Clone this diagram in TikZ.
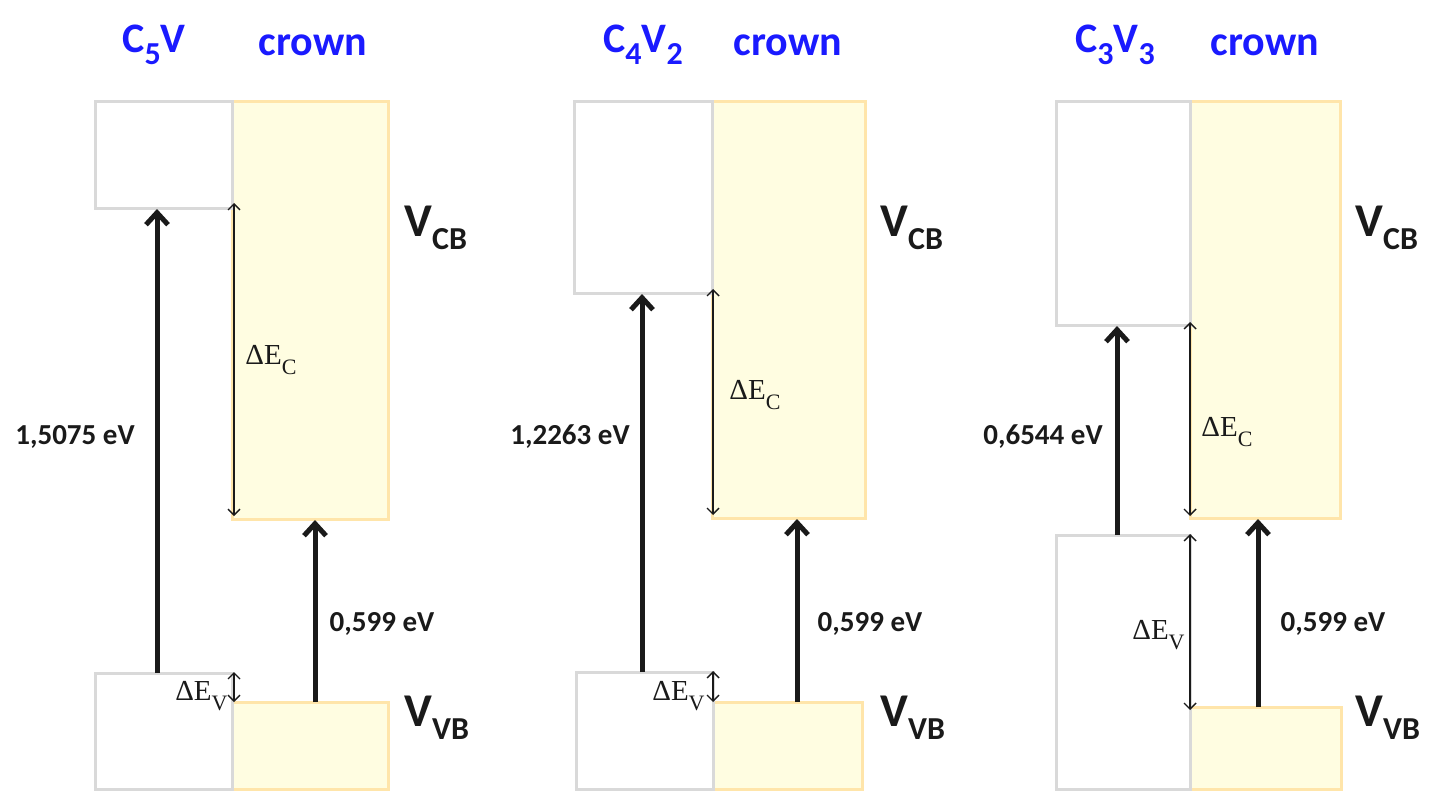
\documentclass[tikz,border=0pt]{standalone}
\usepackage{fontspec}
\setmainfont{Carlito}
\newfontfamily\serifE{Liberation Serif}
\usetikzlibrary{arrows.meta}
\definecolor{ttl}{RGB}{26,26,255}
\definecolor{boxgray}{RGB}{217,217,217}
\definecolor{crownfill}{RGB}{255,253,225}
\definecolor{crownline}{RGB}{255,229,170}
\definecolor{ink}{RGB}{26,26,26}
\newcommand\ssub[2]{\raisebox{-0.28em}{\fontsize{#2}{#2}\selectfont #1}}
\newcommand\dsub[1]{\raisebox{-0.32em}{\fontsize{11pt}{11pt}\selectfont #1}}
\begin{document}
\begin{tikzpicture}[x=0.5pt,y=-0.5pt,
  lbox/.style={draw=boxgray,line width=1.5pt,fill=white},
  cbox/.style={draw=crownline,line width=1.5pt,fill=crownfill},
  big/.style={draw=ink,line width=2.5pt,-{Straight Barb[length=6pt,width=11pt,line width=2.5pt]}},
  thin/.style={draw=ink,line width=0.7pt,{Straight Barb[length=3pt,width=6pt]}-{Straight Barb[length=3pt,width=6pt]}},
  title/.style={text=ttl,font=\bfseries\fontsize{21pt}{21pt}\selectfont,inner sep=0pt},
  ev/.style={text=ink,font=\bfseries\fontsize{14.5pt}{14.5pt}\selectfont,inner sep=0pt},
  vlab/.style={text=ink,font=\bfseries\fontsize{23.5pt}{23.5pt}\selectfont,inner sep=0pt,anchor=west},
  de/.style={text=ink,font=\serifE\fontsize{14.5pt}{14.5pt}\selectfont,inner sep=0pt,anchor=west},
  dev/.style={text=ink,font=\serifE\fontsize{14.5pt}{14.5pt}\selectfont,inner sep=0pt,anchor=east}
]
\useasboundingbox (0,0) rectangle (1433,797);
% ---------- panel 1 ----------
\draw[cbox] (232,102) rectangle (388,519);
\draw[cbox] (232,702) rectangle (388,789);
\draw[lbox] (95,102) rectangle (232,208);
\draw[lbox] (95,673) rectangle (232,789);
\coordinate (a1b) at (157,673); \coordinate (a1t) at (157,209);
\coordinate (b1b) at (315,702); \coordinate (b1t) at (315,520);
\coordinate (c1t) at (234,203); \coordinate (c1b) at (234,516);
\coordinate (v1t) at (234,672); \coordinate (v1b) at (234,702);
\draw[big] (a1b) -- (a1t);
\draw[big] (b1b) -- (b1t);
\draw[thin] (c1t) -- (c1b);
\draw[thin] (v1t) -- (v1b);
\node[title] (t1a) at (154,45) {C\ssub{5}{16pt}V};
\node[title] (t1b) at (313,45) {crown};
\node[ev] (e1a) at (75,437) {1,5075 eV};
\node[ev] (e1b) at (382,624) {0,599 eV};
\node[vlab] (cb1) at (404,228) {V\ssub{CB}{16pt}};
\node[vlab] (vb1) at (404,718) {V\ssub{VB}{16pt}};
\node[de] (dc1) at (245,360) {ΔE\dsub{C}};
\node[dev] (dv1) at (228,696) {ΔE\dsub{V}};
% ---------- panel 2 ----------
\draw[cbox] (712,102) rectangle (865,518);
\draw[cbox] (713,702) rectangle (862,789);
\draw[lbox] (574,102) rectangle (712,293);
\draw[lbox] (576,672) rectangle (713,789);
\coordinate (a2b) at (642,672); \coordinate (a2t) at (642,294);
\coordinate (b2b) at (797,702); \coordinate (b2t) at (797,519);
\coordinate (c2t) at (713,289); \coordinate (c2b) at (713,515);
\coordinate (v2t) at (713,671); \coordinate (v2b) at (713,702);
\draw[big] (a2b) -- (a2t);
\draw[big] (b2b) -- (b2t);
\draw[thin] (c2t) -- (c2b);
\draw[thin] (v2t) -- (v2b);
\node[title] (t2a) at (643,45) {C\ssub{4}{16pt}V\ssub{2}{16pt}};
\node[title] (t2b) at (788,45) {crown};
\node[ev] (e2a) at (570,437) {1,2263 eV};
\node[ev] (e2b) at (870,624) {0,599 eV};
\node[vlab] (cb2) at (880,228) {V\ssub{CB}{16pt}};
\node[vlab] (vb2) at (880,718) {V\ssub{VB}{16pt}};
\node[de] (dc2) at (729,395) {ΔE\dsub{C}};
\node[dev] (dv2) at (705,696) {ΔE\dsub{V}};
% ---------- panel 3 ----------
\draw[cbox] (1190,102) rectangle (1340,518);
\draw[cbox] (1190,707) rectangle (1341,789);
\draw[lbox] (1056,102) rectangle (1190,325);
\draw[lbox] (1056,535) rectangle (1190,789);
\coordinate (a3b) at (1117,535); \coordinate (a3t) at (1117,326);
\coordinate (b3b) at (1258,707); \coordinate (b3t) at (1258,519);
\coordinate (c3t) at (1190,322); \coordinate (c3b) at (1190,516);
\coordinate (v3t) at (1190,534); \coordinate (v3b) at (1190,710);
\draw[big] (a3b) -- (a3t);
\draw[big] (b3b) -- (b3t);
\draw[thin] (c3t) -- (c3b);
\draw[thin] (v3t) -- (v3b);
\node[title] (t3a) at (1115,45) {C\ssub{3}{16pt}V\ssub{3}{16pt}};
\node[title] (t3b) at (1265,45) {crown};
\node[ev] (e3a) at (1043,437) {0,6544 eV};
\node[ev] (e3b) at (1333,624) {0,599 eV};
\node[vlab] (cb3) at (1355,228) {V\ssub{CB}{16pt}};
\node[vlab] (vb3) at (1355,718) {V\ssub{VB}{16pt}};
\node[de] (dc3) at (1201,432) {ΔE\dsub{C}};
\node[dev] (dv3) at (1185,635) {ΔE\dsub{V}};
\end{tikzpicture}
\end{document}
